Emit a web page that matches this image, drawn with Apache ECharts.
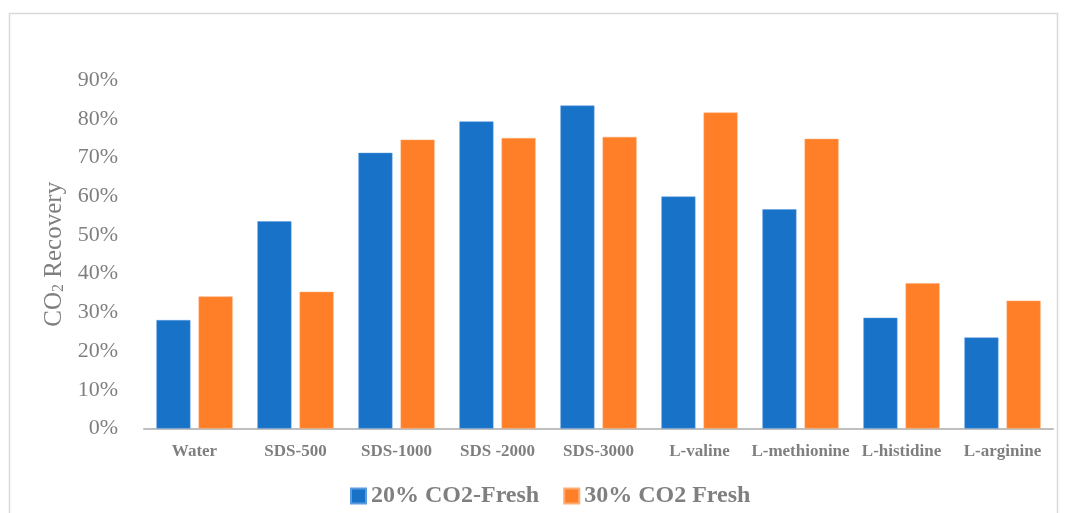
<!DOCTYPE html>
<html>
<head>
<meta charset="utf-8">
<script src="https://cdn.jsdelivr.net/npm/echarts@6/dist/echarts.min.js"></script>
<style>
  html, body { margin: 0; padding: 0; background: #fff; }
  #main { width: 1067px; height: 513px; }
</style>
</head>
<body>
<div id="main"></div>
<script>
// 数据
var categories = ['Water', 'SDS-500', 'SDS-1000', 'SDS -2000', 'SDS-3000', 'L-valine', 'L-methionine', 'L-histidine', 'L-arginine'];
var fresh20 = [28, 53.5, 71.2, 79.3, 83.4, 59.9, 56.6, 28.6, 23.5];
var fresh30 = [34.1, 35.3, 74.6, 75.0, 75.3, 81.6, 74.8, 37.5, 33.0];
var seriesNames = ['20% CO2-Fresh', '30% CO2 Fresh'];

var serif = '"Liberation Serif", "DejaVu Serif", serif';
var gray = '#7f7f7f';

var myChart = echarts.init(document.getElementById('main'));

var option = {
    animation: false,
    textStyle: { fontFamily: serif },
    graphic: [{
        type: 'rect',
        shape: { x: 9.5, y: 13.5, width: 1048, height: 520 },
        style: { fill: 'none', stroke: '#d9d9d9', lineWidth: 1.5 },
        silent: true
    }],
    grid: { left: 144, right: 14, top: 80, bottom: 84.5 },
    legend: {
        data: seriesNames,
        left: 345,
        top: 479,
        icon: 'rect',
        itemWidth: 15,
        itemHeight: 15,
        itemGap: 24,
        textStyle: { fontFamily: serif, fontSize: 24, fontWeight: 'bold', color: gray }
    },
    xAxis: {
        type: 'category',
        data: categories,
        axisLine: { lineStyle: { color: '#bfbfbf', width: 2 } },
        axisTick: { show: false },
        axisLabel: { fontFamily: serif, fontSize: 17, fontWeight: 'bold', color: gray, margin: 15, interval: 0 }
    },
    yAxis: {
        type: 'value',
        min: 0,
        max: 90,
        interval: 10,
        splitLine: { show: false },
        axisLine: { show: false },
        axisTick: { show: false },
        axisLabel: { formatter: '{value}%', fontFamily: serif, fontSize: 22, color: gray, margin: 26 },
        name: '{a|CO}{b|2}{a| Recovery}',
        nameLocation: 'middle',
        nameGap: 73,
        nameTextStyle: {
            rich: {
                a: { fontFamily: serif, fontSize: 25, color: gray, lineHeight: 28 },
                b: { fontFamily: serif, fontSize: 16, color: gray, lineHeight: 28, padding: [9, 0, 0, 0] }
            }
        }
    },
    series: [
        {
            name: seriesNames[0],
            type: 'bar',
            data: fresh20,
            barWidth: 34,
            barGap: '24%',
            itemStyle: { color: '#1772C8', borderColor: '#5a9be0', borderWidth: 0.5 }
        },
        {
            name: seriesNames[1],
            type: 'bar',
            data: fresh30,
            barWidth: 34,
            barGap: '24%',
            itemStyle: { color: '#FE7F27', borderColor: '#ffaa70', borderWidth: 0.5 }
        }
    ]
};

myChart.setOption(option);
</script>
</body>
</html>
